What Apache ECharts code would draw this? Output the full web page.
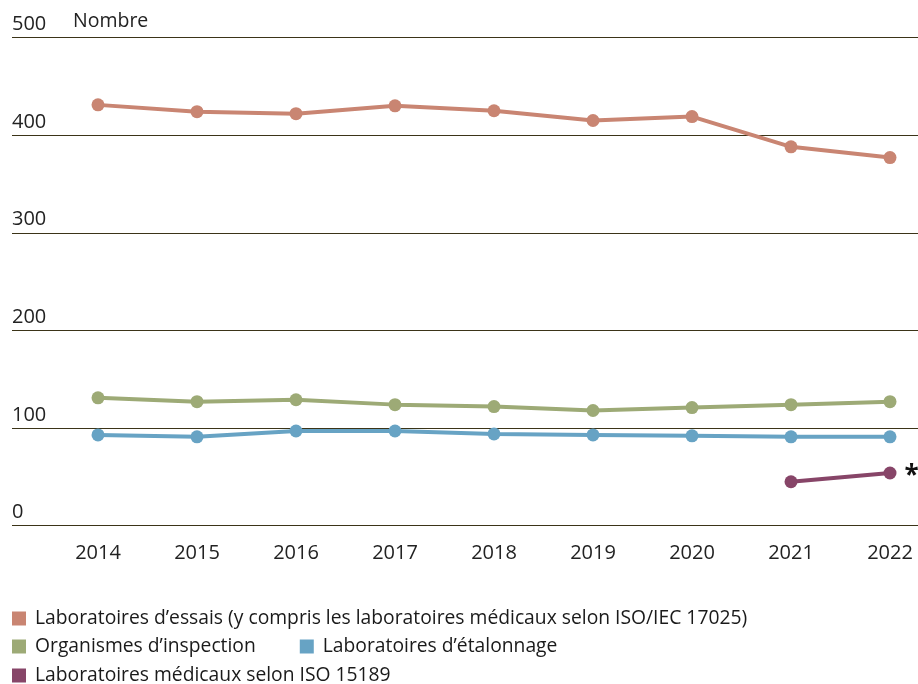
<!DOCTYPE html>
<html>
<head>
    <meta charset="utf-8">
    <title>Accréditations</title>
    <script src="https://cdn.jsdelivr.net/npm/echarts@6/dist/echarts.min.js"></script>
    <style>
        html, body { margin: 0; padding: 0; background: #fff; }
    </style>
</head>
<body>
    <div id="main" style="width: 918px;height:684px;"></div>
    <script type="text/javascript">
        var years = ['2014', '2015', '2016', '2017', '2018', '2019', '2020', '2021', '2022'];
        var essais = [431, 424, 422, 430, 425, 415, 419, 388, 377];
        var inspection = [131, 127, 129, 124, 122, 118, 121, 124, 127];
        var etalonnage = [93, 91, 97, 97, 94, 93, 92, 91, 91];
        var medicaux = [null, null, null, null, null, null, null, 45, 54];
        var yTicks = [0, 100, 200, 300, 400, 500];

        var NAMES = {
            essais: 'Laboratoires d\u2019essais (y compris les laboratoires médicaux selon ISO/IEC 17025)',
            inspection: 'Organismes d\u2019inspection',
            etalonnage: 'Laboratoires d\u2019étalonnage',
            medicaux: 'Laboratoires médicaux selon ISO 15189'
        };
        var COLORS = {
            essais: '#C98572',
            inspection: '#9DAA76',
            etalonnage: '#67A3C4',
            medicaux: '#874568'
        };
        var FONT = 'Open Sans';

        function lineSerie(key, values) {
            return {
                name: NAMES[key],
                type: 'line',
                xAxisIndex: 0,
                yAxisIndex: 0,
                data: values,
                symbol: 'circle',
                symbolSize: 13,
                lineStyle: { width: 4, color: COLORS[key] },
                itemStyle: { color: COLORS[key] },
                connectNulls: false,
                z: 3
            };
        }

        var medData = medicaux.map(function (v, i) {
            if (i === medicaux.length - 1) {
                return {
                    value: v,
                    label: {
                        show: true,
                        position: 'right',
                        distance: 8,
                        offset: [0, 4],
                        formatter: '*',
                        fontSize: 26,
                        fontWeight: 'bold',
                        color: '#111',
                        fontFamily: FONT
                    }
                };
            }
            return v;
        });

        var legendText = { fontFamily: FONT, fontSize: 19.3, color: '#1a1a1a', padding: [0, 0, 0, 4] };

        var option = {
            animation: false,
            textStyle: { fontFamily: FONT },
            grid: [
                { left: 98, right: 28, top: 37.5, bottom: 158.3 },
                { left: 12, right: 0, top: 37.5, bottom: 158.3 }
            ],
            xAxis: [
                {
                    type: 'category',
                    gridIndex: 0,
                    data: years,
                    boundaryGap: false,
                    axisLine: { show: false },
                    axisTick: { show: false },
                    splitLine: { show: false },
                    axisLabel: { fontSize: 20, color: '#222', margin: 18, fontFamily: FONT }
                },
                {
                    type: 'value',
                    gridIndex: 1,
                    show: false
                }
            ],
            yAxis: [
                {
                    type: 'value',
                    gridIndex: 0,
                    min: 0,
                    max: 500,
                    interval: 100,
                    show: false
                },
                {
                    type: 'value',
                    gridIndex: 1,
                    min: yTicks[0],
                    max: yTicks[yTicks.length - 1],
                    interval: 100,
                    axisLine: { show: false },
                    axisTick: { show: false },
                    splitLine: { show: true, lineStyle: { color: '#3b3418', width: 1 } },
                    axisLabel: {
                        inside: true,
                        margin: 0,
                        align: 'left',
                        verticalAlign: 'bottom',
                        padding: [0, 0, 3, 0],
                        fontSize: 20,
                        color: '#222',
                        fontFamily: FONT
                    }
                }
            ],
            legend: [
                {
                    left: 7, top: 604,
                    icon: 'rect', itemWidth: 14, itemHeight: 14,
                    textStyle: legendText,
                    data: [NAMES.essais]
                },
                {
                    left: 7, top: 632,
                    icon: 'rect', itemWidth: 14, itemHeight: 14, itemGap: 44,
                    textStyle: legendText,
                    data: [NAMES.inspection, NAMES.etalonnage]
                },
                {
                    left: 7, top: 661,
                    icon: 'rect', itemWidth: 14, itemHeight: 14,
                    textStyle: legendText,
                    data: [NAMES.medicaux]
                }
            ],
            graphic: [
                {
                    type: 'text',
                    left: 73,
                    top: 11,
                    style: { text: 'Nombre', fontSize: 19.5, fill: '#222', fontFamily: FONT }
                }
            ],
            series: [
                lineSerie('essais', essais),
                lineSerie('inspection', inspection),
                lineSerie('etalonnage', etalonnage),
                lineSerie('medicaux', medData)
            ]
        };

        var myChart = echarts.init(document.getElementById('main'));
        myChart.setOption(option);
    </script>
</body>
</html>
